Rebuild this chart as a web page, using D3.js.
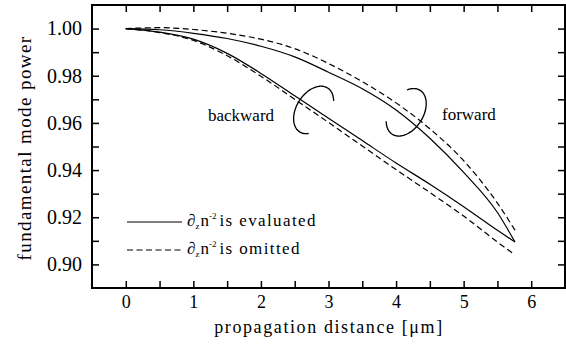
<!DOCTYPE html>
<html>
<head>
<meta charset="utf-8">
<script src="https://cdn.jsdelivr.net/npm/d3@7"></script>
<style>
  body { margin: 0; background: #fff; }
  svg { display: block; }
  svg text { font-family: "Liberation Serif", "Times New Roman", Times, serif; fill: #000; }
</style>
</head>
<body>
<div id="chart"></div>
<script>
// datos
const distance = [0, 0.5, 1, 1.5, 2, 2.5, 3, 3.5, 4, 4.5, 5, 5.5, 5.76];
const forwardEvaluated  = [1.0, 0.9995, 0.998, 0.9958, 0.9925, 0.988, 0.9815, 0.9745, 0.9655, 0.9535, 0.939, 0.922, 0.9095];
const forwardOmitted    = [1.0, 1.0004, 0.9996, 0.998, 0.9955, 0.9915, 0.9852, 0.9775, 0.9685, 0.9575, 0.944, 0.926, 0.9145];
const backwardEvaluated = [1.0, 0.9985, 0.9955, 0.9895, 0.981, 0.9715, 0.962, 0.9525, 0.943, 0.934, 0.9245, 0.9145, 0.9095];
const backwardOmitted   = [1.0, 0.9983, 0.995, 0.9885, 0.9798, 0.97, 0.9602, 0.9502, 0.9402, 0.9305, 0.9205, 0.9095, 0.904];

const xTickValues = [0, 0.5, 1, 1.5, 2, 2.5, 3, 3.5, 4, 4.5, 5, 5.5, 6];
const xTickLabels = [0, 1, 2, 3, 4, 5, 6];
const yTickValues = [0.90, 0.91, 0.92, 0.93, 0.94, 0.95, 0.96, 0.97, 0.98, 0.99, 1.00];
const yTickLabels = [0.90, 0.92, 0.94, 0.96, 0.98, 1.00];
const legendLabels = ["is evaluated", "is omitted"];
const groupLabels = ["backward", "forward"];

const width = 566, height = 348;
const mLeft = 92, mRight = 565, mTop = 5, mBottom = 288;

const svg = d3.select("#chart").append("svg")
  .attr("width", width)
  .attr("height", height);

const x = d3.scaleLinear().domain([-0.5, 6.5]).range([mLeft, mRight]);
const y = d3.scaleLinear().domain([0.89, 1.01]).range([mBottom, mTop]);

// ejes con marcas hacia dentro
const fmtX = d => xTickLabels.includes(d) ? d : "";
const fmtY = d => yTickLabels.some(v => Math.abs(v - d) < 1e-9) ? d3.format(".2f")(d) : "";

const axisB = svg.append("g").attr("transform", `translate(0,${mBottom})`)
  .call(d3.axisBottom(x).tickValues(xTickValues).tickSize(-7).tickPadding(7).tickFormat(fmtX));
const axisT = svg.append("g").attr("transform", `translate(0,${mTop})`)
  .call(d3.axisTop(x).tickValues(xTickValues).tickSize(-7).tickFormat(""));
const axisL = svg.append("g").attr("transform", `translate(${mLeft},0)`)
  .call(d3.axisLeft(y).tickValues(yTickValues).tickSize(-7).tickPadding(10).tickFormat(fmtY));
const axisR = svg.append("g").attr("transform", `translate(${mRight},0)`)
  .call(d3.axisRight(y).tickValues(yTickValues).tickSize(-7).tickFormat(""));

[axisB, axisT, axisL, axisR].forEach(a => {
  a.attr("font-family", null);
  a.select(".domain").remove();
  a.selectAll(".tick line").attr("stroke", "#000").attr("stroke-width", 1.5);
});
axisB.selectAll("text").attr("font-size", 18);
axisL.selectAll("text").attr("font-size", 20);

svg.append("rect")
  .attr("x", mLeft).attr("y", mTop)
  .attr("width", mRight - mLeft).attr("height", mBottom - mTop)
  .attr("fill", "none").attr("stroke", "#000").attr("stroke-width", 2);

// títulos
svg.append("text")
  .attr("x", 329).attr("y", 333)
  .attr("text-anchor", "middle")
  .attr("font-size", 18).attr("letter-spacing", 1.6)
  .text("propagation distance [\u03BCm]");

svg.append("text")
  .attr("transform", `translate(31,148) rotate(-90)`)
  .attr("text-anchor", "middle")
  .attr("font-size", 19).attr("letter-spacing", 1.4)
  .text("fundamental mode power");

// curvas
const line = d3.line()
  .x((d, i) => x(distance[i]))
  .y(d => y(d))
  .curve(d3.curveMonotoneX);

const series = [
  { values: forwardEvaluated, dash: null },
  { values: forwardOmitted, dash: "6,3.5" },
  { values: backwardEvaluated, dash: null },
  { values: backwardOmitted, dash: "6,3.5" }
];

svg.selectAll("path.curve")
  .data(series)
  .enter()
  .append("path")
  .attr("class", "curve")
  .attr("d", d => line(d.values))
  .attr("fill", "none")
  .attr("stroke", "#000")
  .attr("stroke-width", 1.2)
  .attr("stroke-dasharray", d => d.dash);

// anillos alrededor de cada par de curvas
const phi = -57.5 * Math.PI / 180;
function ring(cx, cy, a, b, t0, t1) {
  const pts = d3.range(t0, t1 + 0.1, 3).map(t => {
    const r = t * Math.PI / 180;
    const u = a * Math.cos(r), v = b * Math.sin(r);
    return [cx + u * Math.cos(phi) - v * Math.sin(phi), cy + u * Math.sin(phi) + v * Math.cos(phi)];
  });
  return d3.line().curve(d3.curveCardinal)(pts);
}
svg.append("path")
  .attr("d", ring(x(2.78), y(0.9655), 26, 17, 150, 405))
  .attr("fill", "none").attr("stroke", "#000").attr("stroke-width", 1.3);
svg.append("path")
  .attr("d", ring(x(4.15), y(0.9645), 26, 17, 318, 587))
  .attr("fill", "none").attr("stroke", "#000").attr("stroke-width", 1.3);

svg.append("text").attr("x", 208).attr("y", 121).attr("font-size", 17).text(groupLabels[0]);
svg.append("text").attr("x", 442).attr("y", 120).attr("font-size", 17).text(groupLabels[1]);

// leyenda
const legend = svg.append("g");
legendLabels.forEach((label, i) => {
  const ly = 222 + i * 28;
  legend.append("line")
    .attr("x1", 127).attr("x2", 182).attr("y1", ly).attr("y2", ly)
    .attr("stroke", "#000").attr("stroke-width", 1.2)
    .attr("stroke-dasharray", i === 1 ? "6,3.5" : null);
  const t = legend.append("text").attr("x", 187).attr("y", ly + 4).attr("font-size", 17);
  t.append("tspan").text("\u2202");
  t.append("tspan").attr("font-size", 9).attr("dy", 3).text("z");
  t.append("tspan").attr("dy", -3).attr("dx", 1).text("n");
  t.append("tspan").attr("font-size", 9).attr("dy", -7).text("-2");
  t.append("tspan").attr("dy", 7).attr("dx", 3).attr("letter-spacing", 1.4).text(label);
});
</script>
</body>
</html>
